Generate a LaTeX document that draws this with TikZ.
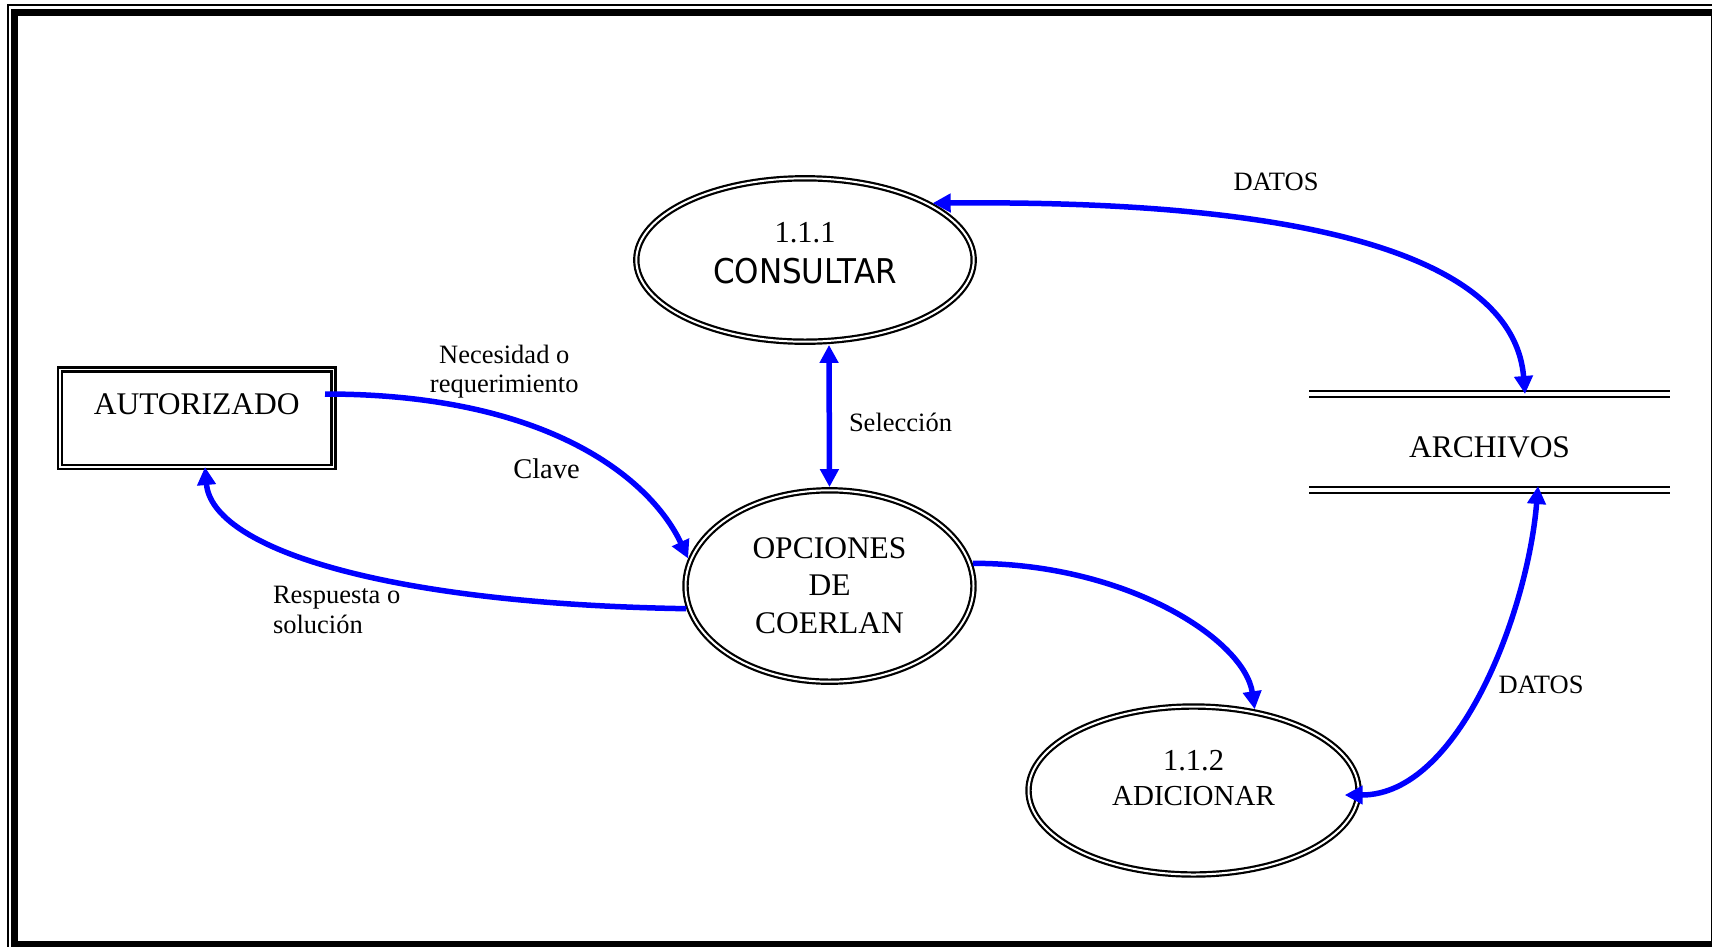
\documentclass[tikz,border=0pt]{standalone}
\usepackage{fontspec}
\setmainfont{Liberation Serif}
\newfontfamily\comicfont{DejaVu Sans}
\usetikzlibrary{arrows.meta,shapes.geometric}
\definecolor{flowblue}{RGB}{0,0,255}
\newcommand\txtline[2]{\makebox[0pt]{\raisebox{#1}[0pt][0pt]{#2}}}
\newcommand\txtlineL[2]{\makebox[0pt][l]{\raisebox{#1}[0pt][0pt]{#2}}}
\tikzset{
  procbox/.style={rectangle, draw, double, line width=2.4pt, double distance=1.8pt,
    inner sep=0pt, outer sep=0pt, font=\fontsize{31.5}{36}\selectfont},
  proc/.style={ellipse, draw, double, line width=2.2pt, double distance=2pt,
    inner sep=0pt, outer sep=3.2pt, font=\fontsize{31.5}{36}\selectfont},
  storeline/.style={double, line width=2.3pt, double distance=3.4pt},
  lbl/.style={inner sep=0pt, font=\fontsize{26.5}{30}\selectfont},
  lblbig/.style={inner sep=0pt, font=\fontsize{28.5}{32}\selectfont},
  flow/.style={draw=flowblue, line width=5.5pt, -{Triangle[length=18pt,width=18pt]}},
  flowboth/.style={draw=flowblue, line width=5.5pt, {Triangle[length=18pt,width=18pt]}-{Triangle[length=18pt,width=18pt]}}
}
\begin{document}
\begin{tikzpicture}[x=1pt,y=-1pt]
\useasboundingbox (0,0) rectangle (1712,946);
\fill[white] (0,0) rectangle (1712,946);
% frame
\draw[line width=1.7pt] (7.8,5) rectangle (1725,955);
\draw[line width=7.2pt] (14.6,12.5) rectangle (1714.6,944.6);

% nodes
\node[procbox, minimum width=273.5pt, minimum height=97.5pt] (aut) at (196.75,418.25)
  {\txtline{4.25pt}{AUTORIZADO}};
\node[proc, minimum width=337.4pt, minimum height=163.4pt] (con) at (805,260)
  {\txtline{18pt}{\fontsize{30.5}{34}\selectfont 1.1.1}\txtline{-23pt}{\comicfont\fontsize{31}{34}\selectfont\scalebox{1}[1.1]{CONSULTAR}}};
\node[proc, minimum width=288pt, minimum height=191.4pt] (op) at (829.5,586)
  {\txtline{28pt}{OPCIONES}\txtline{-9pt}{DE}\txtline{-47pt}{COERLAN}};
\node[proc, minimum width=330pt, minimum height=168pt] (adi) at (1193.5,790.5)
  {\txtline{20.5pt}{\fontsize{30.5}{34}\selectfont 1.1.2}\txtline{-14.5pt}{\fontsize{29}{33}\selectfont ADICIONAR}};
\node[minimum width=361pt, minimum height=96pt, inner sep=0pt, outer sep=0pt,
  font=\fontsize{31.5}{36}\selectfont] (arc) at (1489.5,442) {\txtline{-15pt}{ARCHIVOS}};
\draw[storeline] (arc.north west) -- (arc.north east);
\draw[storeline] (arc.south west) -- (arc.south east);

% labels
\node[lbl, anchor=base] (datosA) at (1276,190) {DATOS};
\node[lbl] (nec) at (504.25,377.5) {\txtline{14.5pt}{Necesidad o}\txtline{-14.5pt}{requerimiento}};
\node[lblbig, anchor=base] (clave) at (546.5,478) {Clave};
\node[lbl, anchor=base] (sel) at (900.5,431) {Selección};
\node[lbl] (resp) at (273,618) {\txtlineL{15pt}{Respuesta o}\txtlineL{-15pt}{solución}};
\node[lbl, anchor=base] (datosB) at (1541,693) {DATOS};

% connectors
\draw[flow] ([xshift=-8.5pt,yshift=24.25pt]aut.east) .. controls +(230,0) and +(-35,-75) .. (op.169);
\draw[flow] (op.189) .. controls +(-303,-5) and +(7,81) .. ([xshift=8.25pt]aut.south);
\draw[flowboth] ([xshift=24pt]con.south) -- (op.north);
\draw[flowboth] (con.24) .. controls +(417,-4) and +(-10,-124) .. ([xshift=35.5pt]arc.north);
\draw[flow] (op.9) .. controls +(155,0) and +(-10,-69) .. (adi.53);
\draw[flowboth] ([xshift=48.5pt,yshift=4pt]arc.south) .. controls +(-10,124) and +(115,0) .. ([xshift=-17pt,yshift=-4.5pt]adi.east);
\end{tikzpicture}
\end{document}
